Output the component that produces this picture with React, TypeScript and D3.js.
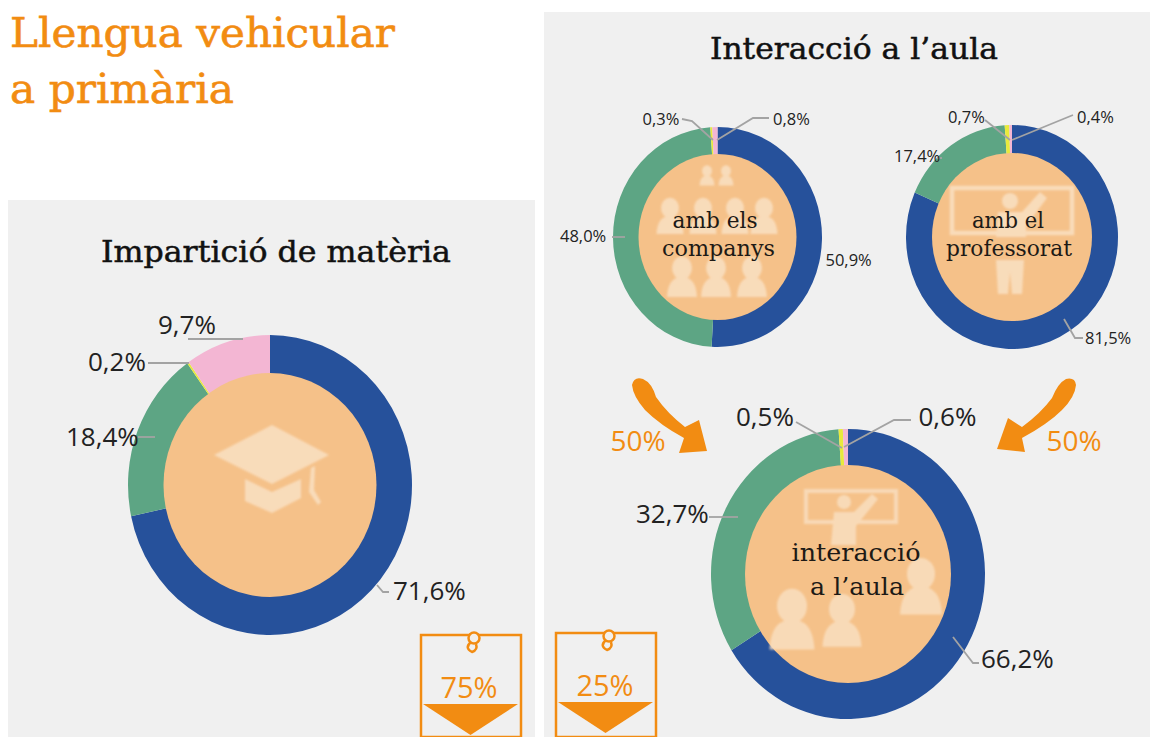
import React from "react";
import * as d3 from "d3";

const segmentNames = ["blau", "verd", "groc", "rosa"];
const segmentColors = ["#26519b", "#5da584", "#e8ea3c", "#f3b6d3"];
const materiaValues = [71.6, 18.4, 0.2, 9.7];
const companysValues = [50.9, 48.0, 0.3, 0.8];
const professoratValues = [81.5, 17.4, 0.7, 0.4];
const aulaValues = [66.2, 32.7, 0.5, 0.6];
const fmt = (v: number) => v.toFixed(1).replace(".", ",") + "%";

const SANS = "'Open Sans', sans-serif";
const SERIF = "'DejaVu Serif', serif";
const ORANGE = "#f28c12";
const LINE = "#a3a3a3";
const ICON = "#f9dfc0";
const INNER = "#f5c189";

type Label = { x: number; y: number; pts: [number, number][] };

function Donut({ values, cx, cy, rx, ry, irx, iry, size, labels }: {
  values: number[]; cx: number; cy: number; rx: number; ry: number; irx: number; iry: number; size: number; labels: Label[];
}) {
  const pie = d3.pie<number>().sort(null).startAngle(0).endAngle(2 * Math.PI);
  const arc = d3.arc<d3.PieArcDatum<number>>().innerRadius(iry * 0.9).outerRadius(ry);
  const arcs = pie(values);
  const line = d3.line();
  return (
    <g>
      <g transform={`translate(${cx},${cy}) scale(${rx / ry},1)`}>
        {arcs.map((a, i) => <path key={segmentNames[i]} d={arc(a) || ""} fill={segmentColors[i]} />)}
      </g>
      <ellipse cx={cx} cy={cy} rx={irx} ry={iry} fill={INNER} />
      {labels.map((l, i) => (
        <g key={i}>
          <path d={line(l.pts) || ""} fill="none" stroke={LINE} strokeWidth={1.8} />
          <text x={l.x} y={l.y} fontFamily={SANS} fontSize={size} fill="#222">{fmt(values[i])}</text>
        </g>
      ))}
    </g>
  );
}

function Tag({ x, y, w, h, label, tx, ty, pinX, triX0, triX1, triY0, triY1 }: any) {
  return (
    <g>
      <rect x={x} y={y} width={w} height={h} fill="none" stroke={ORANGE} strokeWidth={2.5} />
      <circle cx={pinX} cy={y + 3} r={5.5} fill="#f3efe9" stroke={ORANGE} strokeWidth={2.5} />
      <path d={`M${pinX - 3} ${y + 7} q-7 6 1 10 q6 -2 4 -8`} fill="none" stroke={ORANGE} strokeWidth={2.5} />
      <text x={tx} y={ty} textAnchor="middle" fontFamily={SANS} fontSize={29} fill={ORANGE}>{label}</text>
      <path d={`M${triX0} ${triY0}H${triX1}L${(triX0 + triX1) / 2} ${triY1}Z`} fill={ORANGE} />
    </g>
  );
}

function Person({ x, y, s }: { x: number; y: number; s: number }) {
  return (
    <g>
      <ellipse cx={x} cy={y} rx={s} ry={s * 1.15} />
      <path d={`M${x - s * 1.5} ${y + s * 2.9} Q${x - s * 1.4} ${y + s * 0.9} ${x} ${y + s * 0.9} Q${x + s * 1.4} ${y + s * 0.9} ${x + s * 1.5} ${y + s * 2.9} Z`} />
    </g>
  );
}

function Title({ x, y, w, size, children, fill = "#111", heavy = 0.5 }: any) {
  return (
    <text x={x} y={y} textLength={w} lengthAdjust="spacingAndGlyphs" fontFamily={SERIF} fontSize={size} fill={fill} stroke={fill} strokeWidth={heavy}>{children}</text>
  );
}

function Center({ x, y, size, w, children }: any) {
  return (
    <text x={x} y={y} textAnchor="middle" textLength={w} lengthAdjust="spacingAndGlyphs" fontFamily={SERIF} fontSize={size} fill="#1d1a16">{children}</text>
  );
}

export default function App() {
  return (
    <svg width={1150} height={737} style={{ position: "absolute", left: 0, top: 0, background: "#fff" }}>
      <defs>
        <filter id="soft" x="-10%" y="-10%" width="120%" height="120%"><feGaussianBlur stdDeviation="1.2" /></filter>
      </defs>
      <rect x={8} y={200} width={527} height={537} fill="#f0f0f0" />
      <rect x={544} y={12} width={606} height={725} fill="#f0f0f0" />

      <Title x={10} y={47} w={385} size={41} fill={ORANGE} heavy={0.6}>Llengua vehicular</Title>
      <Title x={10} y={103} w={224} size={41} fill={ORANGE} heavy={0.6}>a primària</Title>
      <Title x={101} y={262} w={350} size={29}>Impartició de matèria</Title>
      <Title x={710} y={59} w={288} size={29}>Interacció a l’aula</Title>

      <Donut values={materiaValues} cx={270} cy={485} rx={142} ry={150} irx={106.5} iry={112} size={26}
        labels={[
          { x: 393, y: 600, pts: [[377, 585], [383, 592], [389, 592]] },
          { x: 66, y: 446, pts: [[138, 437], [155, 437]] },
          { x: 88, y: 371, pts: [[148, 363], [189, 363]] },
          { x: 158, y: 334, pts: [[188, 339], [243, 339]] },
        ]} />
      <g fill={ICON} filter="url(#soft)" opacity={0.9}>
        <path d="M272 425L329 455L272 484L214 455Z" />
        <path d="M245 479L245 501L272 513L301 498L301 479L272 492Z" />
        <path d="M311 468L309 492L318 505L321 502L314 490L315 466Z" />
      </g>

      <Donut values={companysValues} cx={717.5} cy={237} rx={104.5} ry={110} irx={79} iry={83} size={16.5}
        labels={[
          { x: 825.5, y: 266, pts: [[823, 262], [823, 262]] },
          { x: 560, y: 242, pts: [[612, 237], [625, 237]] },
          { x: 642.5, y: 125, pts: [[682, 119], [692, 121], [713, 140]] },
          { x: 773, y: 125, pts: [[769, 118], [753, 118], [717, 140]] },
        ]} />
      <g fill={ICON} filter="url(#soft)" opacity={0.9}>
        <Person x={707} y={171} s={5} />
        <Person x={726} y={171} s={5} />
        <Person x={670} y={208} s={9} />
        <Person x={703} y={208} s={9} />
        <Person x={735} y={208} s={9} />
        <Person x={764} y={208} s={9} />
        <Person x={682} y={268} s={10} />
        <Person x={716} y={268} s={10} />
        <Person x={752} y={268} s={10} />
      </g>
      <Center x={715} y={228} size={22} w={85}>amb els</Center>
      <Center x={718.5} y={256} size={22} w={113}>companys</Center>

      <Donut values={professoratValues} cx={1012} cy={237} rx={106} ry={112} irx={80} iry={84} size={16.5}
        labels={[
          { x: 1085, y: 344, pts: [[1064, 319], [1075, 338], [1083, 338]] },
          { x: 894, y: 162, pts: [[937, 158], [942, 158]] },
          { x: 948, y: 123, pts: [[985, 120], [1010, 140]] },
          { x: 1077, y: 123, pts: [[1073, 115], [1012, 140]] },
        ]} />
      <g filter="url(#soft)" opacity={0.9}>
        <rect x={952} y={188} width={120} height={45} fill="none" stroke={ICON} strokeWidth={4.5} />
        <g fill={ICON}>
          <circle cx={1010} cy={201} r={8} />
          <path d="M998 212H1022L1040 192L1047 198L1026 226V237H996Z" />
          <path d="M996 260H1024L1022 294H1012L1010 272L1008 294H998Z" />
        </g>
      </g>
      <Center x={1008} y={228} size={22} w={72}>amb el</Center>
      <Center x={1009} y={256} size={22} w={126}>professorat</Center>

      <Donut values={aulaValues} cx={848} cy={574} rx={137} ry={145} irx={103} iry={109} size={26}
        labels={[
          { x: 981, y: 668, pts: [[953, 637], [973, 663], [979, 663]] },
          { x: 636, y: 523, pts: [[709, 517], [738, 517]] },
          { x: 736, y: 426, pts: [[796, 422], [842, 448]] },
          { x: 918.5, y: 426, pts: [[911, 420], [894, 420], [844, 447]] },
        ]} />
      <g filter="url(#soft)" opacity={0.85}>
        <rect x={806} y={491} width={90} height={31} fill="none" stroke={ICON} strokeWidth={4} />
        <g fill={ICON}>
          <circle cx={844} cy={502} r={7} />
          <path d="M834 512H854L872 494L878 499L856 526V545H831Z" />
        </g>
        <g fill={ICON}>
          <Person x={792} y={606} s={15} />
          <Person x={842} y={609} s={13} />
          <Person x={921} y={574} s={14} />
        </g>
      </g>
      <Center x={856} y={561} size={25} w={129}>interacció</Center>
      <Center x={857} y={595} size={25} w={94}>a l’aula</Center>

      <path d="M632 385Q634 376 643 379Q652 383 656 397Q667 413 685 427L699 420L707 451L679 453L684 438Q660 425 645 410Q633 396 632 385Z" fill={ORANGE} />
      <path d="M1076 385Q1075 377 1066 379Q1058 383 1052 398Q1041 413 1022 427L1008 418L997 449L1025 452L1022 438Q1048 424 1062 410Q1075 397 1076 385Z" fill={ORANGE} />
      <text x={638} y={451} textAnchor="middle" fontFamily={SANS} fontSize={28} fontWeight={500} fill={ORANGE}>50%</text>
      <text x={1074} y={451} textAnchor="middle" fontFamily={SANS} fontSize={28} fontWeight={500} fill={ORANGE}>50%</text>

      <Tag x={421} y={635} w={100} h={102} label="75%" tx={469} ty={698} pinX={474} triX0={423} triX1={518} triY0={704} triY1={735} />
      <Tag x={556} y={633} w={100} h={104} label="25%" tx={605} ty={696} pinX={609} triX0={558} triX1={653} triY0={702} triY1={733} />
    </svg>
  );
}
